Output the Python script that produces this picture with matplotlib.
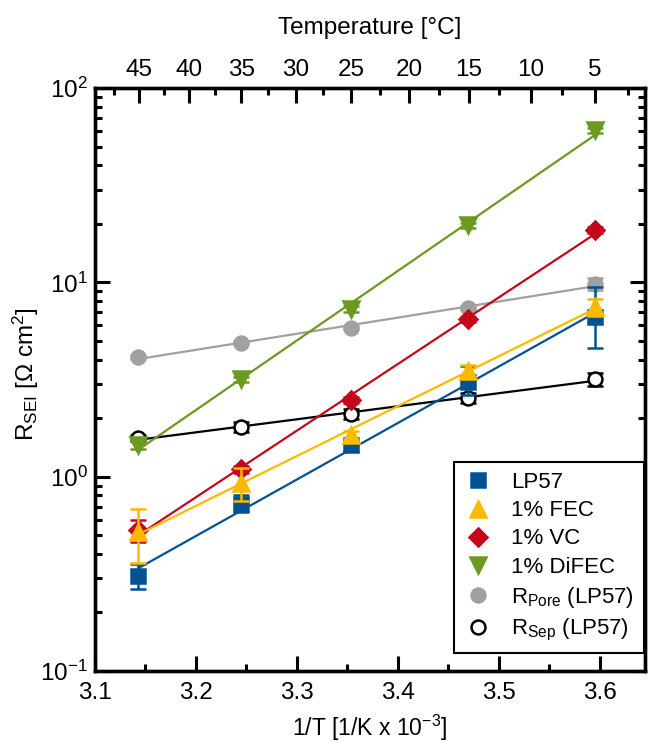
import numpy as np
import matplotlib
matplotlib.use("Agg")
import matplotlib.pyplot as plt

plt.rcParams['font.family'] = ['Liberation Sans', 'DejaVu Sans']
plt.rcParams['mathtext.fontset'] = 'custom'
plt.rcParams['mathtext.rm'] = 'Liberation Sans'
plt.rcParams['mathtext.it'] = 'Liberation Sans:italic'
plt.rcParams['font.size'] = 17.5

# 1/T [1/K x 10^-3] for 45, 35, 25, 15, 5 degC
inv_T = [3.143, 3.245, 3.354, 3.470, 3.595]

lp57 = [0.31, 0.72, 1.45, 3.08, 6.6]
lp57_lo = [0.045, 0.06, 0.10, 0.45, 2.0]
lp57_hi = [0.045, 0.08, 0.10, 0.65, 2.9]
fec = [0.52, 0.93, 1.64, 3.5, 7.5]
fec_err = [0.16, 0.18, 0.08, 0.25, 0.75]
vc = [0.53, 1.09, 2.48, 6.45, 18.6]
vc_err = [0.07, 0.05, 0.08, 0.2, 0.7]
difec = [1.45, 3.17, 7.3, 19.7, 60.5]
difec_err = [0.07, 0.1, 0.25, 0.6, 2.0]
r_pore = [4.12, 4.89, 5.84, 7.41, 9.8]
r_pore_err = [0.1, 0.1, 0.12, 0.15, 0.7]
r_sep = [1.58, 1.80, 2.10, 2.53, 3.18]
r_sep_err = [0.06, 0.1, 0.12, 0.15, 0.25]

temp_major = [45, 40, 35, 30, 25, 20, 15, 10, 5]
temp_minor = [47.5, 42.5, 37.5, 32.5, 27.5, 22.5, 17.5, 12.5, 7.5, 2.5]

series = [
    (r_pore, [r_pore_err, r_pore_err], 'o', '#a0a0a1', '#a0a0a1', 'R$_{\\mathrm{Pore}}$ (LP57)', 10),
    (r_sep, [r_sep_err, r_sep_err], 'o', 'black', 'white', 'R$_{\\mathrm{Sep}}$ (LP57)', 10),
    (lp57, [lp57_lo, lp57_hi], 's', '#005293', '#005293', 'LP57', 9.5),
    (vc, [vc_err, vc_err], 'D', '#c4071b', '#c4071b', '1% VC', 9.5),
    (fec, [fec_err, fec_err], '^', '#fcb900', '#fcb900', '1% FEC', 12),
    (difec, [difec_err, difec_err], 'v', '#6a9a1f', '#6a9a1f', '1% DiFEC', 12),
]

fig = plt.figure(figsize=(6.51, 7.42), dpi=100)
ax = fig.add_axes([0.1459, 0.0957, 0.8449, 0.7857])

x = np.array(inv_T)
handles = {}
for y, err, mk, col, face, lab, ms in series:
    y = np.array(y)
    # arrhenius fit, straight line in log space
    p = np.polyfit(x, np.log10(y), 1)
    xf = np.array([x[0], x[-1]])
    ax.plot(xf, 10 ** np.polyval(p, xf), '-', color=col, lw=1.6)
    ax.errorbar(x, y, yerr=err, fmt='none', ecolor=col, elinewidth=1.8,
                capsize=6, capthick=1.8)
    h, = ax.plot(x, y, mk, color=col, mfc=face, mec=col, ms=ms, mew=1.8,
                 linestyle='none', label=lab)
    handles[lab] = h

ax.set_yscale('log')
ax.set_xlim(3.1, 3.645)
ax.set_ylim(0.1, 100)
ax.set_xticks([3.1, 3.2, 3.3, 3.4, 3.5, 3.6])
ax.set_xticks([3.15, 3.25, 3.35, 3.45, 3.55], minor=True)
ax.tick_params(which='both', direction='in', right=True, width=2.2)
ax.tick_params(which='major', length=11)
ax.tick_params(which='minor', length=5)
ax.tick_params(axis='x', pad=8)
ax.tick_params(axis='y', pad=5)
for s in ax.spines.values():
    s.set_linewidth(2.4)

ax.set_xlabel('1/T [1/K x 10$^{-3}$]', fontsize=16.5, labelpad=6)
ax.set_ylabel('R$_{\\mathrm{SEI}}$ [$\\Omega$ cm$^2$]')
ax.yaxis.set_label_coords(-0.098, 0.51)

ax2 = ax.twiny()
ax2.set_xlim(ax.get_xlim())
ax2.set_xticks([1000 / (t + 273.15) for t in temp_major])
ax2.set_xticklabels([str(t) for t in temp_major])
ax2.set_xticks([1000 / (t + 273.15) for t in temp_minor], minor=True)
ax2.tick_params(which='both', direction='in', width=2.2, pad=5)
ax2.tick_params(which='major', length=11)
ax2.tick_params(which='minor', length=5)
ax2.set_xlabel('Temperature [°C]', labelpad=18)
for s in ax2.spines.values():
    s.set_linewidth(2.4)

order = ['LP57', '1% FEC', '1% VC', '1% DiFEC',
         'R$_{\\mathrm{Pore}}$ (LP57)', 'R$_{\\mathrm{Sep}}$ (LP57)']
leg = ax.legend([handles[k] for k in order], order, loc='lower right',
                bbox_to_anchor=(0.998, 0.031), borderaxespad=0,
                fancybox=False, framealpha=1, edgecolor='black',
                borderpad=0.45, labelspacing=0.32, handlelength=1.2,
                handletextpad=0.9, fontsize=16)
leg.get_frame().set_linewidth(1.5)

fig.savefig('out.png', dpi=100)
